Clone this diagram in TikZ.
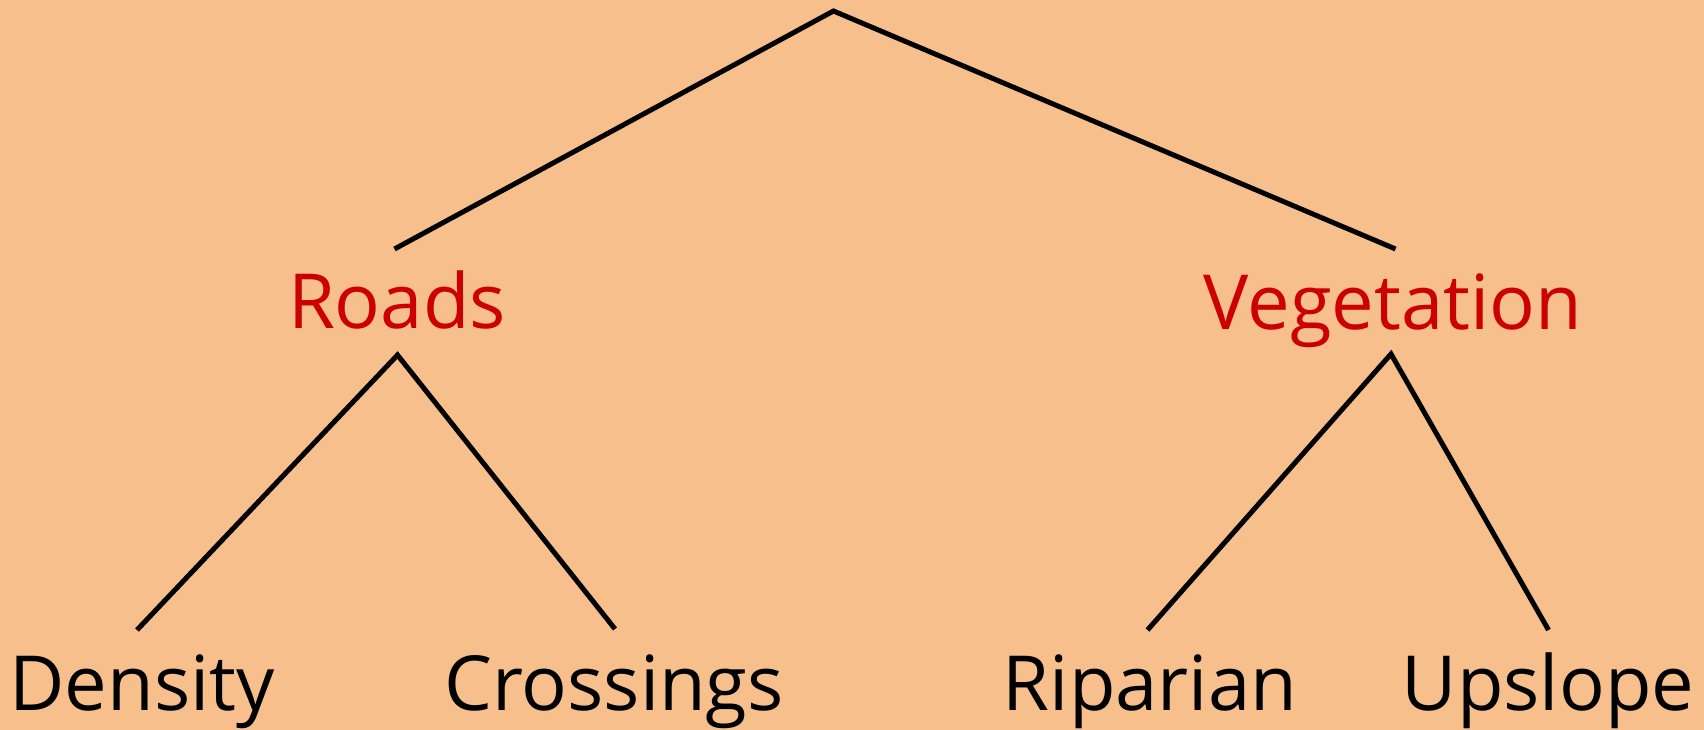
\documentclass[tikz,border=0pt]{standalone}
\usepackage{fontspec}
\setmainfont{Open Sans}
\definecolor{bg}{HTML}{F6BF8C}
\definecolor{lab}{HTML}{CC0000}
\begin{document}
\begin{tikzpicture}[x=1pt,y=-1pt,
  branch/.style={draw=black,line width=5pt},
  leaf/.style={anchor=base,inner sep=0pt,font=\fontsize{76}{80}\selectfont},
  cat/.style={leaf,text=lab}]
\fill[bg] (0,0) rectangle (1704,730);
\useasboundingbox (0,0) rectangle (1704,730);
% text nodes
\node[cat] (roads) at (397,328) {Roads};
\node[cat] (veg) at (1393,329) {Vegetation};
\node[leaf] (density) at (142,710) {Density};
\node[leaf] (crossings) at (614,710) {Crossings};
\node[leaf] (riparian) at (1150,710) {Riparian};
\node[leaf] (upslope) at (1548,710) {Upslope};
% connector end points
\coordinate (top) at (833.5,11);
\coordinate (roadsup) at (394.5,249);
\coordinate (vegup) at (1395.5,249);
\coordinate (roadsdown) at (397.5,355);
\coordinate (vegdown) at (1391,354);
\coordinate (densityup) at (137,630);
\coordinate (crossingsup) at (615,629);
\coordinate (riparianup) at (1147.5,630);
\coordinate (upslopeup) at (1548.5,630);
% connectors
\draw[branch] (roadsup) -- (top) -- (vegup);
\draw[branch] (densityup) -- (roadsdown) -- (crossingsup);
\draw[branch] (riparianup) -- (vegdown) -- (upslopeup);
\end{tikzpicture}
\end{document}
